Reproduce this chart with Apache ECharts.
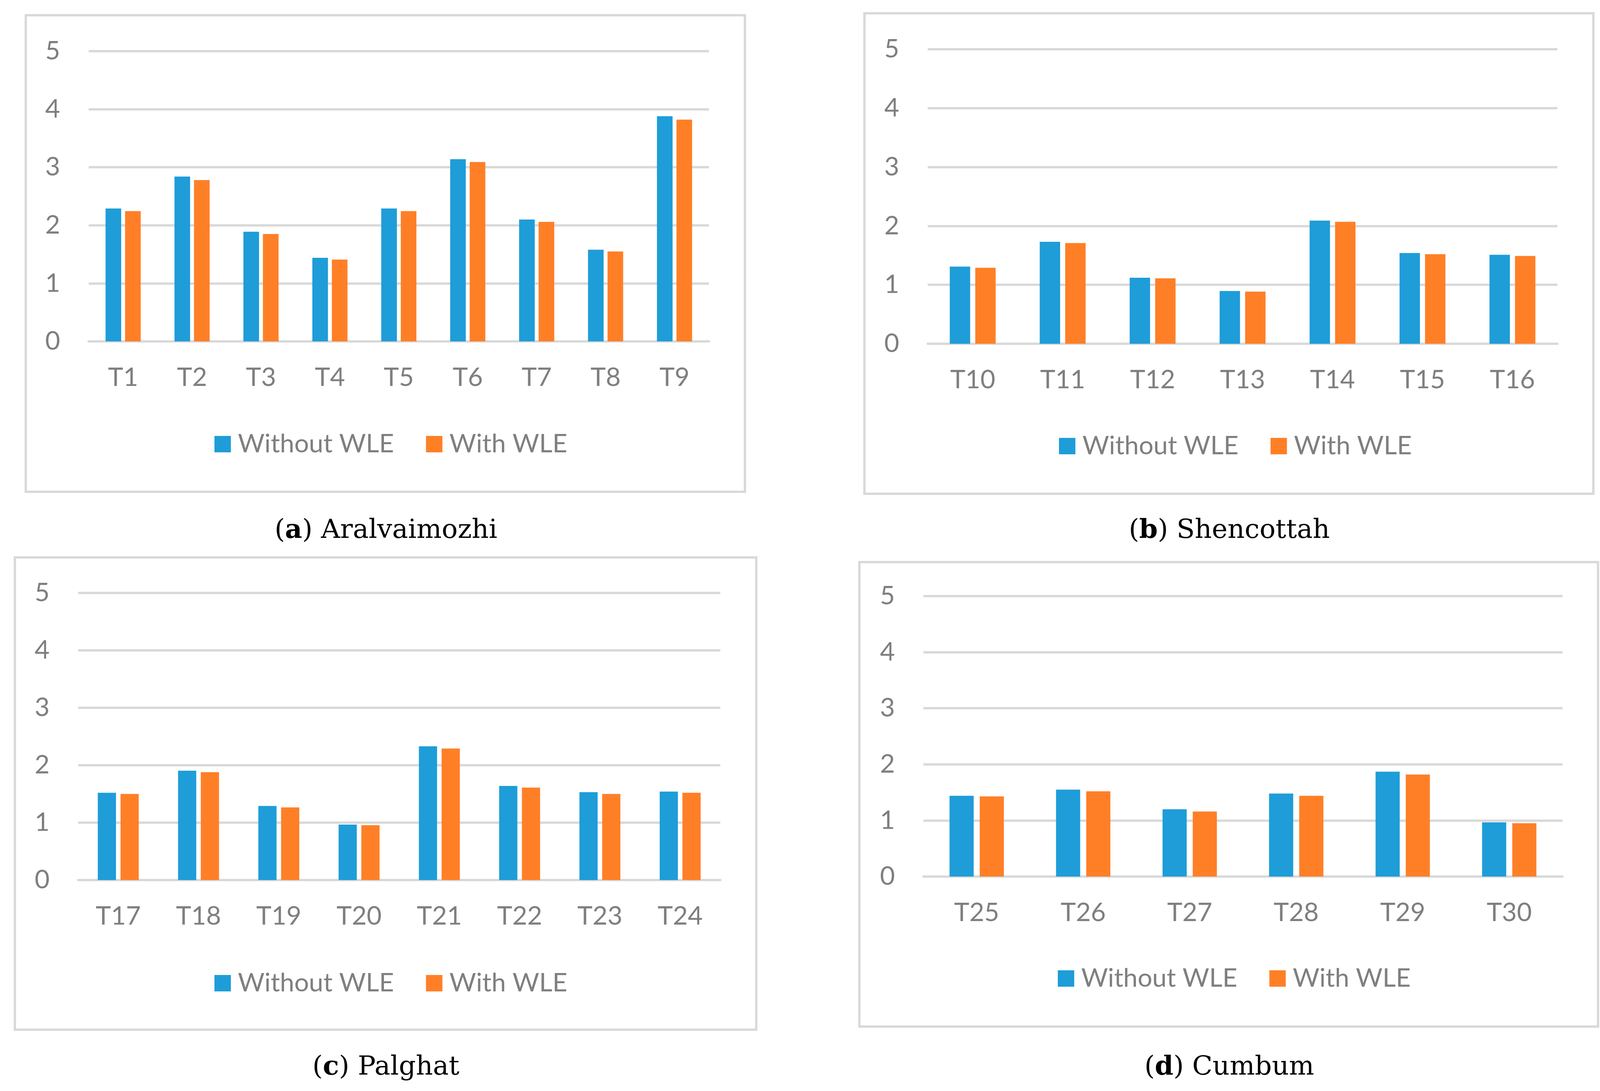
<!DOCTYPE html>
<html><head><meta charset="utf-8">
<script src="https://cdn.jsdelivr.net/npm/echarts@6/dist/echarts.min.js"></script>
<style>html,body{margin:0;padding:0;background:#fff}#c{width:4117px;height:2793px}</style>
</head><body><div id="c"></div>
<script>
const seriesNames = ['Without WLE', 'With WLE'];
const yTicks = [0, 1, 2, 3, 4, 5];

const catsA = ['T1','T2','T3','T4','T5','T6','T7','T8','T9'];
const withoutA = [2.29, 2.84, 1.89, 1.44, 2.29, 3.14, 2.10, 1.58, 3.88];
const withA    = [2.245, 2.78, 1.85, 1.41, 2.245, 3.09, 2.06, 1.55, 3.82];

const catsB = ['T10','T11','T12','T13','T14','T15','T16'];
const withoutB = [1.31, 1.73, 1.12, 0.895, 2.09, 1.54, 1.51];
const withB    = [1.29, 1.71, 1.11, 0.885, 2.07, 1.52, 1.49];

const catsC = ['T17','T18','T19','T20','T21','T22','T23','T24'];
const withoutC = [1.52, 1.905, 1.29, 0.966, 2.33, 1.64, 1.53, 1.54];
const withC    = [1.50, 1.88, 1.265, 0.955, 2.29, 1.61, 1.50, 1.52];

const catsD = ['T25','T26','T27','T28','T29','T30'];
const withoutD = [1.44, 1.55, 1.20, 1.48, 1.87, 0.966];
const withD    = [1.43, 1.52, 1.16, 1.44, 1.82, 0.95];

const captions = [['a', 'Aralvaimozhi'], ['b', 'Shencottah'], ['c', 'Palghat'], ['d', 'Cumbum']];

const BLUE = '#1E9DD8', ORANGE = '#FF7F27', GRID = '#D9D9D9', TXT = '#7F7F7F';
const FONT = 'Lato, "Open Sans", sans-serif';
const FS = 66;

const panels = [
  {cats: catsA, a: withoutA, b: withA, grid: {left: 227, top: 131, width: 1588, height: 743},
   frame: [66, 39, 1841, 1220], legend: {left: 549, top: 1104}, cap: [988, 1353]},
  {cats: catsB, a: withoutB, b: withB, grid: {left: 2375, top: 126, width: 1612, height: 754},
   frame: [2213, 34, 1866, 1230], legend: {left: 2711, top: 1109}, cap: [3147, 1353]},
  {cats: catsC, a: withoutC, b: withC, grid: {left: 200, top: 1518, width: 1644, height: 735},
   frame: [38, 1427, 1898, 1209], legend: {left: 549, top: 2484}, cap: [988, 2727]},
  {cats: catsD, a: withoutD, b: withD, grid: {left: 2364, top: 1526, width: 1636, height: 718},
   frame: [2200, 1439, 1891, 1189], legend: {left: 2708, top: 2472}, cap: [3147, 2727]}
];

const option = {
  backgroundColor: '#fff',
  animation: false,
  grid: [], xAxis: [], yAxis: [], series: [], legend: [], title: [], graphic: []
};

panels.forEach((p, i) => {
  option.grid.push(Object.assign({containLabel: false}, p.grid));
  option.xAxis.push({
    type: 'category', gridIndex: i, data: p.cats,
    axisLine: {show: true, lineStyle: {color: GRID, width: 6}},
    axisTick: {show: false},
    axisLabel: {color: TXT, fontSize: FS, fontFamily: FONT, margin: 60}
  });
  option.yAxis.push({
    type: 'value', gridIndex: i, min: yTicks[0], max: yTicks[yTicks.length - 1], interval: 1,
    axisLine: {show: false}, axisTick: {show: false},
    splitLine: {lineStyle: {color: GRID, width: 6}},
    axisLabel: {color: TXT, fontSize: FS, fontFamily: FONT, margin: 73}
  });
  option.series.push({
    name: seriesNames[0], type: 'bar', xAxisIndex: i, yAxisIndex: i, data: p.a,
    itemStyle: {color: BLUE}, barGap: '25%', barCategoryGap: '49%'
  });
  option.series.push({
    name: seriesNames[1], type: 'bar', xAxisIndex: i, yAxisIndex: i, data: p.b,
    itemStyle: {color: ORANGE}, barGap: '25%', barCategoryGap: '49%'
  });
  option.legend.push({
    data: [{name: seriesNames[0], itemStyle: {color: BLUE}}, {name: seriesNames[1], itemStyle: {color: ORANGE}}],
    left: p.legend.left, top: p.legend.top, itemWidth: 42, itemHeight: 42, itemGap: 82,
    icon: 'rect', selectedMode: false, padding: 0,
    textStyle: {color: TXT, fontSize: FS, lineHeight: 66, fontFamily: FONT, padding: [0, 0, 0, 13]}
  });
  option.title.push({
    text: '({b|' + captions[i][0] + '}) ' + captions[i][1],
    left: p.cap[0], top: p.cap[1] - 28, textAlign: 'center', padding: 0,
    textStyle: {color: '#000', fontSize: 68, fontWeight: 'normal', fontFamily: '"DejaVu Serif", serif',
      rich: {b: {fontSize: 68, fontWeight: 'bold', fontFamily: '"DejaVu Serif", serif', color: '#000'}}}
  });
  option.graphic.push({
    type: 'rect', shape: {x: p.frame[0], y: p.frame[1], width: p.frame[2], height: p.frame[3]},
    style: {fill: 'none', stroke: GRID, lineWidth: 6}, silent: true, z: -1
  });
});

const chart = echarts.init(document.getElementById('c'));
chart.setOption(option);
</script></body></html>
